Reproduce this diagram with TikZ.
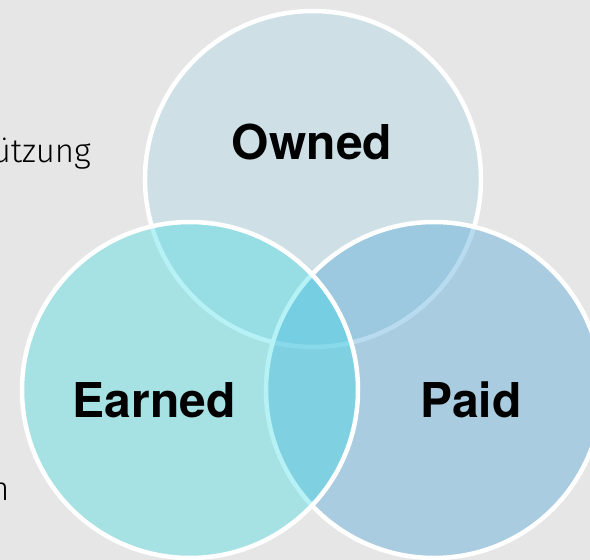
\documentclass[tikz,border=0pt]{standalone}
\usepackage{fontspec}
\setsansfont{TeX Gyre Heros}
\newfontfamily\thinfont{Fira Sans}[UprightFont=* Light]
\usetikzlibrary{positioning}

\definecolor{bggrey}{RGB}{230,230,230}
\definecolor{ownedblue}{RGB}{172,215,232}
\definecolor{paidblue}{RGB}{82,167,215}
\definecolor{earnedcyan}{RGB}{47,218,227}

\begin{document}
\begin{tikzpicture}[
 x=1pt, y=-1pt,
 venn/.style={circle, minimum size=336pt, inner sep=0pt, draw=white, line width=4.5pt},
 setlabel/.style={font=\sffamily\bfseries\fontsize{48}{48}\selectfont, text=black},
 sidetext/.style={font=\thinfont\fontsize{33}{33}\selectfont, text=black, inner sep=0pt}
]
 \fill[bggrey] (0,0) rectangle (590,560);
 \useasboundingbox (0,0) rectangle (590,560);

 % Owned at the back, Paid over it, Earned in front
 \node[venn, fill=ownedblue, fill opacity=0.4] (owned) at (313,179) {};
 \node[venn, fill=paidblue, fill opacity=0.4] (paid) at (434,390) {};
 \node[venn, fill=earnedcyan, fill opacity=0.35] (earned) at (190,390) {};

 % Set names
 \node[setlabel] (ownedname) at (312,142) {Owned};
 \node[setlabel] (earnedname) at (154,400) {Earned};
 \node[setlabel] (paidname) at (471,400) {Paid};

 % Text running in from the left edge
 \node[sidetext, anchor=base east] (support) at (91,162) {ützung};
 \node[sidetext, anchor=base east] (wordend) at (9.5,500) {n};
\end{tikzpicture}
\end{document}
